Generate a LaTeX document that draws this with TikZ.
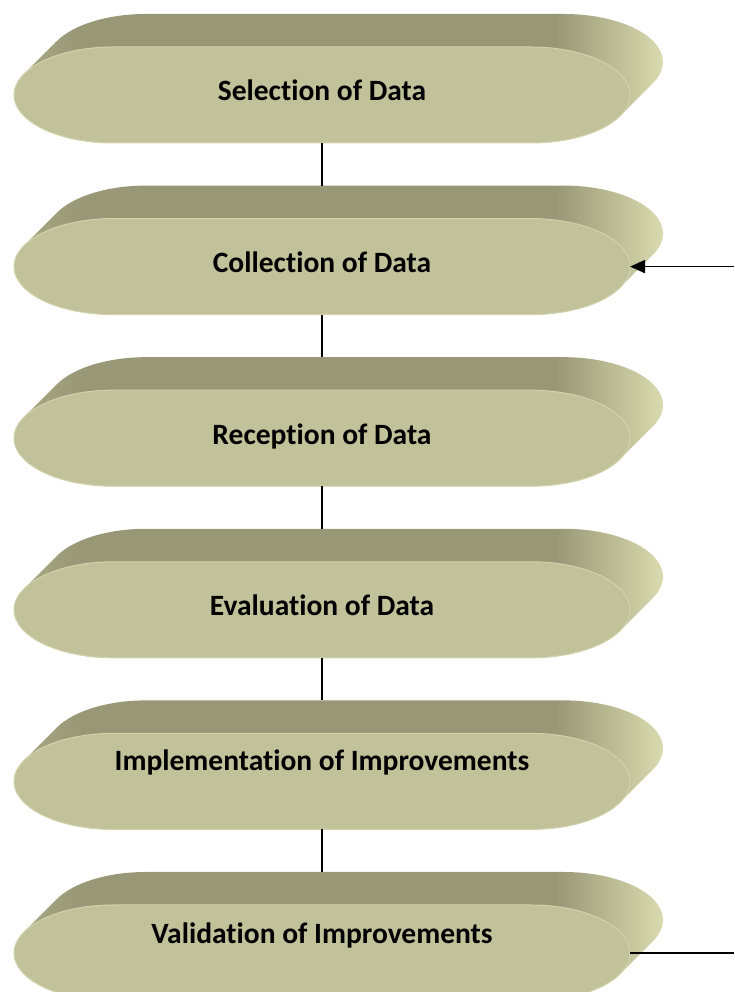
\documentclass[tikz,border=0pt]{standalone}
\usepackage{fontspec}
\setmainfont{Carlito}[Ligatures=NoCommon]
\usetikzlibrary{arrows.meta}

\definecolor{pillface}{RGB}{193,194,154}
\definecolor{pillrim}{RGB}{210,211,172}
\definecolor{extL}{RGB}{176,176,138}
\definecolor{extM}{RGB}{152,151,118}
\definecolor{extR}{RGB}{226,227,182}
\pgfdeclarehorizontalshading{extrude}{100bp}{color(0bp)=(extL); color(25bp)=(extL); color(31bp)=(extM); color(66bp)=(extM); color(75bp)=(extR); color(100bp)=(extR)}

\begin{document}
\begin{tikzpicture}[x=1pt,y=1pt,
    pilltext/.style={font=\fontsize{29.5}{35}\selectfont\bfseries, anchor=base},
    link/.style={line width=1.5pt}]
    \useasboundingbox (0,0) rectangle (734,992);

    % pills: number / centre / text baseline / text
    \foreach \i/\cy/\ty/\txt in {1/897/891/Selection of Data,
                                 2/725.4/719/Collection of Data,
                                 3/553.8/547/Reception of Data,
                                 4/382.2/376/Evaluation of Data,
                                 5/210.6/221/Implementation of Improvements,
                                 6/39/48/Validation of Improvements} {
        % extruded back part
        \shade[shading=extrude] (531,\cy-48)
            arc[start angle=-90,end angle=-25.9,x radius=99,y radius=48] -- ++(33,33)
            arc[start angle=-25.9,end angle=90,x radius=99,y radius=48] -- ++(-418,0)
            arc[start angle=90,end angle=154.1,x radius=99,y radius=48] -- ++(-33,-33)
            arc[start angle=154.1,end angle=270,x radius=99,y radius=48] -- cycle;
        % front face
        \draw[fill=pillface,draw=pillrim,line width=1pt] (531,\cy-48)
            arc[start angle=-90,end angle=90,x radius=99,y radius=48] -- (113,\cy+48)
            arc[start angle=90,end angle=270,x radius=99,y radius=48] -- cycle;
        \node[pilltext] (t\i) at (322,\ty) {\txt};
        \coordinate (top\i) at (322,\cy+81);
        \coordinate (bot\i) at (322,\cy-48);
        \coordinate (side\i) at (630,\cy);
    }

    \foreach \i [count=\j from 2] in {1,...,5}
        \draw[link] (bot\i) -- (top\j);

    \coordinate (feed) at (734,725.4);
    \coordinate (exit) at (734,39);
    \draw[link,-{Triangle[length=15pt,width=13pt]}] (feed) -- (side2);
    \draw[link] (side6) -- (exit);
\end{tikzpicture}
\end{document}
